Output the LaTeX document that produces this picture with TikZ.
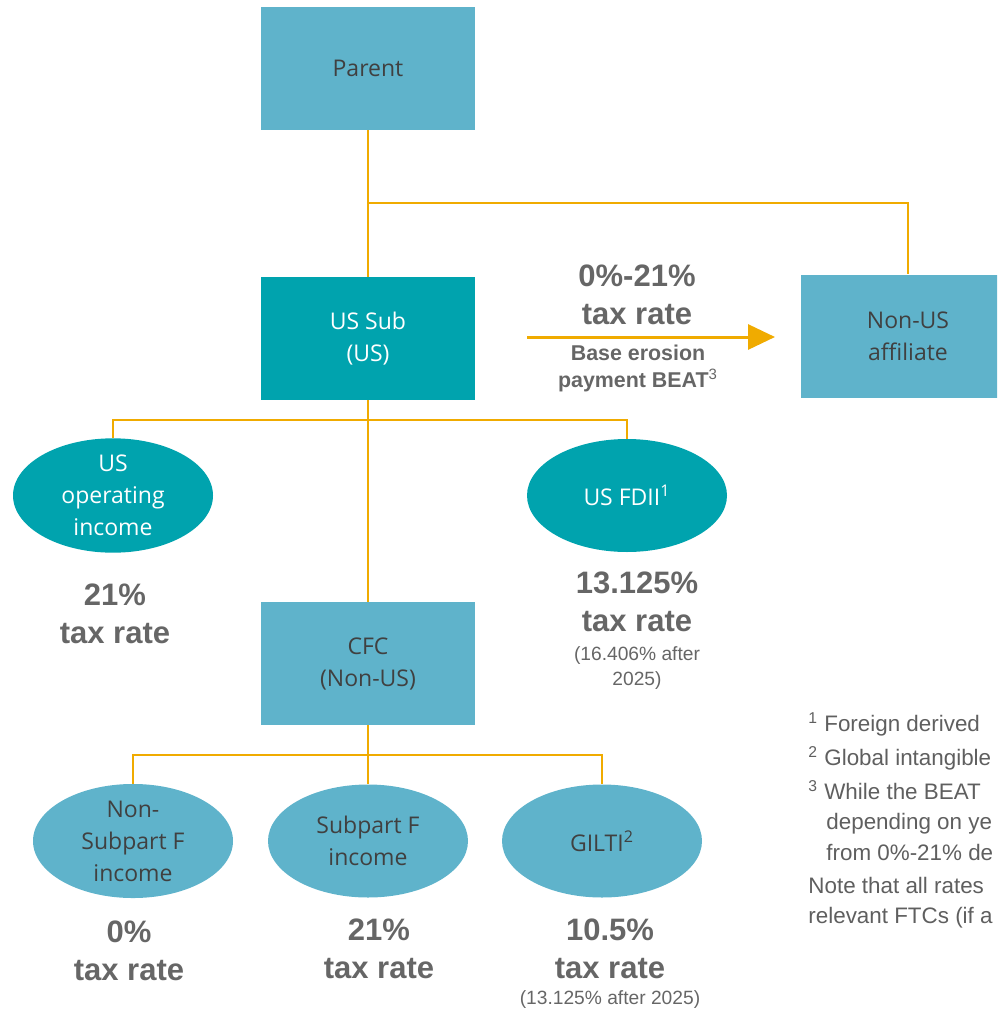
\documentclass[tikz,border=0pt]{standalone}
\usepackage{fontspec}
\setmainfont{Liberation Sans}
\newfontfamily\boxfont{Open Sans}
\usetikzlibrary{shapes.geometric,arrows.meta}
\definecolor{lblue}{HTML}{5FB3CB}
\definecolor{tealc}{HTML}{00A3AE}
\definecolor{orng}{HTML}{F0AB00}
\definecolor{dgrey}{HTML}{404040}
\definecolor{rgrey}{HTML}{666666}
\definecolor{fgrey}{HTML}{5F5F5F}
\begin{document}
\begin{tikzpicture}[x=0.5pt,y=-0.5pt,
  ent/.style={rectangle, minimum width=107pt, minimum height=61.5pt, inner sep=0pt, align=center, font=\boxfont\fontsize{11.5}{16}\selectfont},
  lightent/.style={ent, fill=lblue, text=dgrey},
  darkent/.style={ent, fill=tealc, text=white},
  inc/.style={ellipse, minimum width=100pt, minimum height=56.5pt, inner sep=0pt, align=center, font=\boxfont\fontsize{11.5}{16}\selectfont},
  darkinc/.style={inc, fill=tealc, text=white},
  lightinc/.style={inc, fill=lblue, text=dgrey},
  link/.style={draw=orng, line width=1pt},
  rate/.style={align=center, text=rgrey, inner sep=0pt, font=\bfseries\fontsize{15.5}{19}\selectfont},
  ratenote/.style={align=center, text=rgrey, inner sep=0pt, font=\fontsize{9.6}{12.5}\selectfont},
  paylabel/.style={align=center, text=rgrey, inner sep=0pt, font=\bfseries\fontsize{10.7}{13.5}\selectfont},
  fn/.style={anchor=base west, text=fgrey, inner sep=0pt, font=\fontsize{11.2}{12}\selectfont},
]
\useasboundingbox (0,0) rectangle (997,1012);
\clip (0,0) rectangle (997,1012);

% entities
\node[lightent] (parent) at (368,68.5) {Parent};
\node[darkent] (ussub) at (368,338.5) {US Sub\\(US)};
\node[lightent] (nonus) at (908,336) {Non-US\\affiliate};
\node[lightent] (cfc) at (368,663.5) {CFC\\(Non-US)};

% income ellipses
\node[darkinc] (usop) at (113,495.5) {US\\operating\\income};
\node[darkinc] (fdii) at (627,495.5) {US FDII\textsuperscript{1}};
\node[lightinc] (nonsubf) at (133,841) {Non-\\Subpart F\\income};
\node[lightinc] (subf) at (368,841) {Subpart F\\income};
\node[lightinc] (gilti) at (602,841) {GILTI\textsuperscript{2}};

% connectors
\coordinate (b1) at (368,203);
\coordinate (b2) at (368,420);
\coordinate (b3) at (368,755);
\draw[link] (parent.south) -- (ussub.north);
\draw[link] (b1) -| (nonus.north);
\draw[link] (ussub.south) -- (cfc.north);
\draw[link] (b2) -| (usop.north);
\draw[link] (b2) -| (fdii.north);
\draw[link] (cfc.south) -- (subf.north);
\draw[link] (b3) -| (nonsubf.north);
\draw[link] (b3) -| (gilti.north);

% BEAT arrow
\coordinate (arrS) at (527,337);
\coordinate (arrE) at (775,337);
\draw[draw=orng, line width=1.5pt, -{Triangle[length=13.5pt,width=12.5pt,fill=orng]}] (arrS) -- (arrE);
\node[rate] (beatrate) at (637,295) {0\%-21\%\\tax rate};
\node[paylabel] (beatlbl) at (638,368) {Base erosion\\payment BEAT\textsuperscript{\mdseries 3}};

% rates
\node[rate] (r1) at (115,614) {21\%\\tax rate};
\node[rate] (r2) at (637,602) {13.125\%\\tax rate};
\node[ratenote] (r2n) at (637,668) {(16.406\% after\\2025)};
\node[rate] (r3) at (129,951) {0\%\\tax rate};
\node[rate] (r4) at (379,949) {21\%\\tax rate};
\node[rate] (r5) at (610,949) {10.5\%\\tax rate};
\node[ratenote] (r5n) at (610,1000) {(13.125\% after 2025)};

% footnotes
\node[fn] (fn1) at (808,731) {\textsuperscript{1} Foreign derived};
\node[fn] (fn2) at (808,765) {\textsuperscript{2} Global intangible};
\node[fn] (fn3) at (808,799) {\textsuperscript{3} While the BEAT};
\node[fn] (fn4) at (826,829) {depending on ye};
\node[fn] (fn5) at (826,860) {from 0\%-21\% de};
\node[fn] (fn6) at (808,893) {Note that all rates};
\node[fn] (fn7) at (808,923) {relevant FTCs (if a};
\end{tikzpicture}
\end{document}
